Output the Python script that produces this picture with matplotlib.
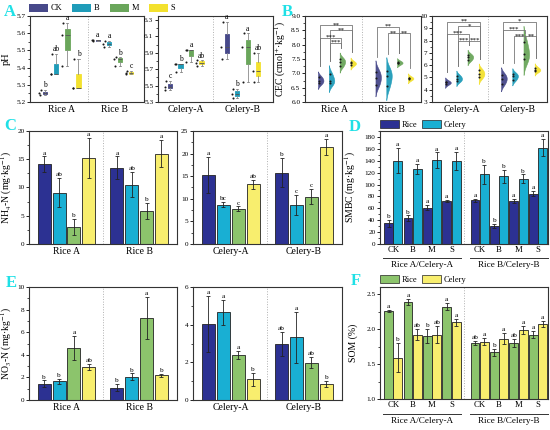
import numpy as np
import matplotlib
matplotlib.use("Agg")
import matplotlib.pyplot as plt
from matplotlib.patches import Patch
from matplotlib.ticker import AutoMinorLocator, FormatStrFormatter

plt.rcParams["font.family"] = ["Liberation Serif", "DejaVu Serif"]
plt.rcParams["mathtext.fontset"] = "stix"

# ---------------- data ----------------
treatments = ["CK", "B", "M", "S"]
rice_groups = ["Rice A", "Rice B"]
celery_groups = ["Celery-A", "Celery-B"]
pair_groups = ["Rice A/Celery-A", "Rice B/Celery-B"]

# A: pH replicates (CK, B, M, S)
ph_rice_a = [[5.24, 5.25, 5.27], [5.36, 5.36, 5.48], [5.41, 5.59, 5.66], [5.28, 5.28, 5.45]]
ph_rice_b = [[5.555, 5.56, 5.56], [5.52, 5.54, 5.555], [5.41, 5.45, 5.46], [5.36, 5.37, 5.38]]
ph_celery_a = [[5.45, 5.48, 5.56], [5.67, 5.76, 5.77], [5.79, 5.94, 5.94], [5.74, 5.78, 5.81]]
ph_celery_b = [[5.82, 5.97, 6.28], [5.35, 5.40, 5.46], [5.55, 5.97, 6.14], [5.55, 5.68, 5.90]]
ph_rice_letters = [["b", "ab", "a", "b"], ["a", "a", "b", "c"]]
ph_celery_letters = [["c", "b", "a", "ab"], ["a", "b", "a", "ab"]]

# B: CEC replicates
cec_rice_a = [[6.65, 6.75, 6.87], [6.65, 6.75, 6.98], [7.25, 7.40, 7.50], [7.28, 7.35, 7.40]]
cec_rice_b = [[6.60, 6.85, 7.05], [6.55, 6.90, 7.08], [7.36, 7.37, 7.38], [6.80, 6.82, 6.85]]
cec_celery_a = [[4.50, 4.60, 4.65], [4.70, 4.90, 5.15], [6.40, 6.65, 6.85], [5.00, 5.30, 5.60]]
cec_celery_b = [[4.50, 4.90, 5.20], [4.80, 5.10, 5.30], [6.50, 6.90, 7.90], [5.50, 5.60, 5.80]]
# (group, treatment i, treatment j, bracket height, label)
cec_rice_sig = [(0, 0, 3, 8.67, "**"), (0, 1, 3, 8.50, "**"), (0, 0, 2, 8.25, "***"),
                (0, 1, 2, 8.06, "***"), (1, 0, 2, 8.63, "**"), (1, 1, 2, 8.40, "**"),
                (1, 2, 3, 8.40, "**")]
cec_celery_sig = [(0, 0, 3, 9.55, "**"), (0, 1, 3, 9.15, "*"), (0, 0, 2, 8.56, "***"),
                  (0, 1, 2, 8.00, "***"), (0, 2, 3, 8.00, "***"), (1, 0, 3, 9.55, "*"),
                  (1, 0, 2, 8.90, "***"), (1, 1, 2, 8.35, "***"), (1, 2, 3, 8.35, "**")]

# C: NH4-N
nh4_rice_mean = [[14.1, 9.1, 3.0, 15.2], [13.5, 10.5, 5.8, 16.0]]
nh4_rice_err = [[1.4, 2.6, 1.4, 3.5], [2.0, 2.2, 1.4, 2.4]]
nh4_rice_letters = [["a", "ab", "b", "a"], ["a", "ab", "b", "a"]]
nh4_celery_mean = [[15.3, 8.7, 7.8, 13.2], [15.8, 8.7, 10.5, 21.4]]
nh4_celery_err = [[4.0, 0.6, 0.5, 1.0], [3.2, 2.2, 1.6, 1.8]]
nh4_celery_letters = [["a", "bc", "c", "ab"], ["b", "c", "c", "a"]]

# D: SMBC
smbc_rice_mean = [[35, 43, 61, 72.5], [73.5, 30, 72.5, 84.5]]
smbc_rice_err = [[6, 5, 4, 2], [3, 3, 3, 4]]
smbc_celery_mean = [[140, 126, 141, 140], [117, 113.5, 110, 162]]
smbc_celery_err = [[21, 9, 13, 15], [16, 11, 7, 14]]
smbc_rice_letters = [["b", "b", "a", "a"], ["a", "b", "a", "a"]]
smbc_celery_letters = [["a", "a", "a", "a"], ["b", "b", "b", "a"]]

# E: NO3-N
no3_rice_mean = [[1.46, 1.67, 4.62, 2.92], [1.08, 2.05, 7.25, 2.19]]
no3_rice_err = [[0.27, 0.22, 1.07, 0.26], [0.32, 0.30, 1.83, 0.12]]
no3_rice_letters = [["b", "b", "a", "ab"], ["b", "b", "a", "b"]]
no3_celery_mean = [[4.04, 4.65, 2.40, 1.09], [2.96, 3.32, 1.98, 0.85]]
no3_celery_err = [[1.50, 0.68, 0.20, 0.33], [0.64, 1.35, 0.29, 0.15]]
no3_celery_letters = [["a", "a", "a", "b"], ["ab", "a", "ab", "b"]]

# F: SOM
som_rice_mean = [[2.26, 2.39, 1.90, 2.32], [1.80, 1.67, 1.80, 1.92]]
som_rice_err = [[0.015, 0.04, 0.10, 0.05], [0.025, 0.05, 0.06, 0.05]]
som_celery_mean = [[1.59, 1.92, 1.92, 2.10], [1.82, 1.86, 1.99, 2.07]]
som_celery_err = [[0.21, 0.08, 0.12, 0.05], [0.055, 0.08, 0.06, 0.045]]
som_rice_letters = [["a", "a", "b", "a"], ["ab", "b", "ab", "a"]]
som_celery_letters = [["b", "ab", "ab", "a"], ["a", "a", "a", "a"]]

# ---------------- style ----------------
box_colors = ["#47498a", "#1f9cb9", "#6aa65b", "#f3e12e"]
bar_colors = ["#2c3192", "#19afd3", "#8cc46c", "#f8ee6e"]
panel_color = "#1fe0e6"
edge = "#222222"

W, H = 550, 430
fig = plt.figure(figsize=(5.5, 4.3), dpi=100)


def add_ax(x0, y0, x1, y1):
    return fig.add_axes([x0 / W, 1 - y1 / H, (x1 - x0) / W, (y1 - y0) / H])


def style(ax, ylim, yticks, fmt=None, tick_fs=5.2):
    for s in ax.spines.values():
        s.set_linewidth(0.8)
        s.set_color("#333333")
    ax.set_ylim(*ylim)
    ax.set_yticks(yticks)
    if fmt:
        ax.yaxis.set_major_formatter(FormatStrFormatter(fmt))
    ax.yaxis.set_minor_locator(AutoMinorLocator(2))
    ax.tick_params(axis="x", length=0, labelsize=7, pad=2.5)
    ax.tick_params(axis="y", which="major", direction="out", length=2.2, width=0.6,
                   labelsize=tick_fs, pad=1.2)
    ax.tick_params(axis="y", which="minor", direction="out", length=1.3, width=0.5)


def group_axis(ax, positions, xlim, div, names):
    ax.set_xlim(*xlim)
    ax.axvline(div, color="#b0b0b0", ls=":", lw=0.7, zorder=0)
    ax.set_xticks([np.mean(p) for p in positions])
    ax.set_xticklabels(names)


def box_panel(ax, data, letters, positions, ylim):
    rng = ylim[1] - ylim[0]
    offs = [0.0, -0.06, 0.05]
    for g in range(2):
        for t in range(4):
            v = data[g][t]
            p = positions[g][t]
            c = box_colors[t]
            bp = ax.boxplot([v], positions=[p], widths=0.4, patch_artist=True,
                            whis=(0, 100), showfliers=False, manage_ticks=False)
            for b in bp["boxes"]:
                b.set_facecolor(c)
                b.set_edgecolor(c)
                b.set_linewidth(0.6)
            for m in bp["medians"]:
                m.set_color("#555555")
                m.set_linewidth(0.6)
            for w in bp["whiskers"] + bp["caps"]:
                w.set_color("#8a8a8a")
                w.set_linewidth(0.6)
            ax.scatter(np.full(len(v), p - 0.45) + np.array(offs[:len(v)]), v, s=2.2,
                       color="#1a1a1a", zorder=5, linewidths=0)
            ax.text(p, max(v) + 0.008 * rng, letters[g][t], ha="center", va="bottom",
                    fontsize=5.5)


def half_violin(ax, v, p, c, rng, width=0.5):
    v = np.asarray(v, float)
    sd = v.std(ddof=1)
    bw = max(0.9 * sd, 0.025 * rng)
    ys = np.linspace(v.min() - 2.0 * bw, v.max() + 2.0 * bw, 150)
    dens = np.exp(-0.5 * ((ys[:, None] - v[None, :]) / bw) ** 2).sum(1)
    dens = dens - dens.min()
    dens = dens / dens.max() * width
    ax.fill_betweenx(ys, p, p + dens, color=c, lw=0.4, edgecolor=c, alpha=0.95, zorder=2)
    ax.scatter(np.full(len(v), p + 0.06), v, s=2.2, color="#1a1a1a", zorder=5, linewidths=0)
    return v.max() + 1.6 * bw


def violin_panel(ax, data, positions, ylim, sig):
    rng = ylim[1] - ylim[0]
    tops = [[0] * 4, [0] * 4]
    for g in range(2):
        for t in range(4):
            tops[g][t] = half_violin(ax, data[g][t], positions[g][t], box_colors[t], rng)
    for g, i, j, h, lab in sig:
        xi, xj = positions[g][i] + 0.15, positions[g][j] + 0.15
        li = min(tops[g][i] + 0.07 * rng, h - 0.04 * rng)
        lj = min(tops[g][j] + 0.07 * rng, h - 0.04 * rng)
        ax.plot([xi, xi, xj, xj], [li, h, h, lj], color="#777777", lw=0.6, zorder=3)
        ax.text((xi + xj) / 2, h - 0.025 * rng, lab, ha="center", va="bottom", fontsize=5)


def bar_panel(ax, means, errs, letters, positions, ylim, width=0.88):
    rng = ylim[1] - ylim[0]
    for g in range(2):
        x = np.asarray(positions[g])
        ax.bar(x, means[g], width, color=bar_colors, edgecolor=edge, linewidth=0.6, zorder=2)
        ax.errorbar(x, means[g], yerr=errs[g], fmt="none", ecolor="#222222", elinewidth=0.6,
                    capsize=1.4, capthick=0.6, zorder=3)
        for t in range(4):
            ax.text(x[t], means[g][t] + errs[g][t] + 0.008 * rng, letters[g][t], ha="center",
                    va="bottom", fontsize=5.2)


def pair_panel(ax, rm, re, cm, ce, rl, cl, colors, ylim, yticks, lab_y, line_y, grp_y, fmt=None):
    rng = ylim[1] - ylim[0]
    pos = [np.arange(4, dtype=float), np.arange(4) + 4.45]
    bw, off = 0.46, 0.24
    for g in range(2):
        x = pos[g]
        for xs, m, e, l, c in ((x - off, rm[g], re[g], rl[g], colors[0]),
                               (x + off, cm[g], ce[g], cl[g], colors[1])):
            ax.bar(xs, m, bw, color=c, edgecolor=edge, linewidth=0.6, zorder=2)
            ax.errorbar(xs, m, yerr=e, fmt="none", ecolor="#222222", elinewidth=0.6,
                        capsize=1.3, capthick=0.6, zorder=3)
            for k in range(4):
                ax.text(xs[k], m[k] + e[k] + 0.008 * rng, l[k], ha="center", va="bottom",
                        fontsize=5.2)
    style(ax, ylim, yticks, fmt)
    ax.set_xlim(-0.68, 7.97)
    ax.axvline(3.62, color="#b0b0b0", ls=":", lw=0.7, zorder=0)
    ax.set_xticks(np.concatenate(pos))
    ax.set_xticklabels(treatments * 2)
    ax.tick_params(axis="x", labelsize=6.3, pad=lab_y)
    tr = ax.get_xaxis_transform()
    for g in range(2):
        x0, x1 = pos[g][0] - 0.5, pos[g][-1] + 0.5
        ax.plot([x0, x1], [line_y, line_y], color="#333333", lw=0.7, transform=tr,
                clip_on=False)
        ax.text((x0 + x1) / 2, grp_y, pair_groups[g], ha="center", va="center",
                fontsize=6.6, transform=tr)


# ---------------- Panel A ----------------
axA1 = add_ax(30, 16, 144, 102)
posA1 = [np.arange(4, dtype=float), np.arange(4) + 4.75]
box_panel(axA1, [ph_rice_a, ph_rice_b], ph_rice_letters, posA1, (5.2, 5.7))
style(axA1, (5.2, 5.7), np.arange(5.2, 5.71, 0.1), "%.1f")
group_axis(axA1, posA1, (-1.36, 8.9), 3.85, rice_groups)
axA1.set_ylabel("pH", fontsize=7.5)
axA1.yaxis.set_label_coords(-0.17, 0.5)

axA2 = add_ax(158, 16, 273, 102)
posA2 = [np.arange(4, dtype=float), np.arange(4) + 5.4]
box_panel(axA2, [ph_celery_a, ph_celery_b], ph_celery_letters, posA2, (5.3, 6.35))
style(axA2, (5.3, 6.35), np.arange(5.3, 6.31, 0.2), "%.1f")
group_axis(axA2, posA2, (-1.15, 9.8), 4.1, celery_groups)

fig.legend(handles=[Patch(facecolor=c, edgecolor="none", label=t)
                    for c, t in zip(box_colors, treatments)],
           loc="center left", bbox_to_anchor=(29 / W, 1 - 8 / H), ncol=4, frameon=False,
           fontsize=6, handlelength=2.3, handleheight=1.1, columnspacing=1.2,
           handletextpad=0.3, borderaxespad=0, borderpad=0)

# ---------------- Panel B ----------------
axB1 = add_ax(305, 16, 421, 102)
posB1 = [np.arange(4, dtype=float), np.arange(4) + 5.3]
violin_panel(axB1, [cec_rice_a, cec_rice_b], posB1, (6.0, 9.0), cec_rice_sig)
style(axB1, (6.0, 9.0), np.arange(6.0, 9.01, 0.5), "%.1f")
group_axis(axB1, posB1, (-1.2, 9.5), 4.1, rice_groups)
axB1.set_ylabel("CEC (cmol$^{+}$·kg$^{-1}$)", fontsize=7)
axB1.yaxis.set_label_coords(-0.145, 0.5)

axB2 = add_ax(432, 16, 547, 102)
posB2 = [np.arange(4, dtype=float), np.arange(4) + 5.0]
violin_panel(axB2, [cec_celery_a, cec_celery_b], posB2, (3, 10), cec_celery_sig)
style(axB2, (3, 10), np.arange(3, 11, 1))
group_axis(axB2, posB2, (-1.18, 9.1), 3.8, celery_groups)

# ---------------- Panel C ----------------
posC = [np.arange(4, dtype=float), np.arange(4) + 4.9]
axC1 = add_ax(29, 131, 177, 244)
bar_panel(axC1, nh4_rice_mean, nh4_rice_err, nh4_rice_letters, posC, (0, 20))
style(axC1, (0, 20), np.arange(0, 21, 5))
group_axis(axC1, posC, (-1.03, 8.95), 3.95, rice_groups)
axC1.set_ylabel("NH$_4$-N (mg·kg$^{-1}$)", fontsize=7)
axC1.yaxis.set_label_coords(-0.1, 0.5)

axC2 = add_ax(193, 131, 342, 244)
bar_panel(axC2, nh4_celery_mean, nh4_celery_err, nh4_celery_letters, posC, (0, 25))
style(axC2, (0, 25), np.arange(0, 26, 5))
group_axis(axC2, posC, (-1.03, 8.95), 3.95, celery_groups)

# ---------------- Panel D ----------------
axD = add_ax(380, 131, 548, 244)
pair_panel(axD, smbc_rice_mean, smbc_rice_err, smbc_celery_mean, smbc_celery_err,
           smbc_rice_letters, smbc_celery_letters, [bar_colors[0], bar_colors[1]],
           (0, 190), np.arange(0, 181, 20), 1.5, -0.124, -0.19)
axD.set_ylabel("SMBC (mg·kg$^{-1}$)", fontsize=7)
axD.yaxis.set_label_coords(-0.13, 0.5)
axD.legend(handles=[Patch(facecolor=bar_colors[0], edgecolor=edge, lw=0.5, label="Rice"),
                    Patch(facecolor=bar_colors[1], edgecolor=edge, lw=0.5, label="Celery")],
           loc="center left", bbox_to_anchor=(0.0, 1.06), ncol=2, frameon=False, fontsize=6,
           handlelength=2.3, handleheight=1.1, columnspacing=0.6, handletextpad=0.3,
           borderaxespad=0, borderpad=0)

# ---------------- Panel E ----------------
axE1 = add_ax(29, 287, 177, 400)
bar_panel(axE1, no3_rice_mean, no3_rice_err, no3_rice_letters, posC, (0, 10))
style(axE1, (0, 10), np.arange(0, 11, 2))
group_axis(axE1, posC, (-1.03, 8.95), 3.95, rice_groups)
axE1.set_ylabel("NO$_3$-N (mg·kg$^{-1}$)", fontsize=7)
axE1.yaxis.set_label_coords(-0.1, 0.5)

axE2 = add_ax(193, 287, 342, 400)
bar_panel(axE2, no3_celery_mean, no3_celery_err, no3_celery_letters, posC, (0, 6))
style(axE2, (0, 6), np.arange(0, 7, 2))
group_axis(axE2, posC, (-1.03, 8.95), 3.95, celery_groups)

# ---------------- Panel F ----------------
axF = add_ax(380, 287, 548, 399)
pair_panel(axF, som_rice_mean, som_rice_err, som_celery_mean, som_celery_err,
           som_rice_letters, som_celery_letters, [bar_colors[2], bar_colors[3]],
           (1.0, 2.6), np.arange(1.0, 2.51, 0.5), 1.5, -0.134, -0.2, "%.1f")
axF.set_ylabel("SOM (%)", fontsize=7)
axF.yaxis.set_label_coords(-0.13, 0.5)
axF.legend(handles=[Patch(facecolor=bar_colors[2], edgecolor=edge, lw=0.5, label="Rice"),
                    Patch(facecolor=bar_colors[3], edgecolor=edge, lw=0.5, label="Celery")],
           loc="center left", bbox_to_anchor=(0.0, 1.065), ncol=2, frameon=False, fontsize=6,
           handlelength=2.3, handleheight=1.1, columnspacing=0.6, handletextpad=0.3,
           borderaxespad=0, borderpad=0)

# ---------------- panel letters ----------------
for lab, x, y in (("A", 10, 12), ("B", 287, 12), ("C", 10, 126), ("D", 355, 127),
                  ("E", 11, 283), ("F", 356, 281)):
    fig.text(x / W, 1 - y / H, lab, color=panel_color, fontsize=12, fontweight="bold",
             ha="center", va="center")

fig.savefig("out.png", dpi=100)
